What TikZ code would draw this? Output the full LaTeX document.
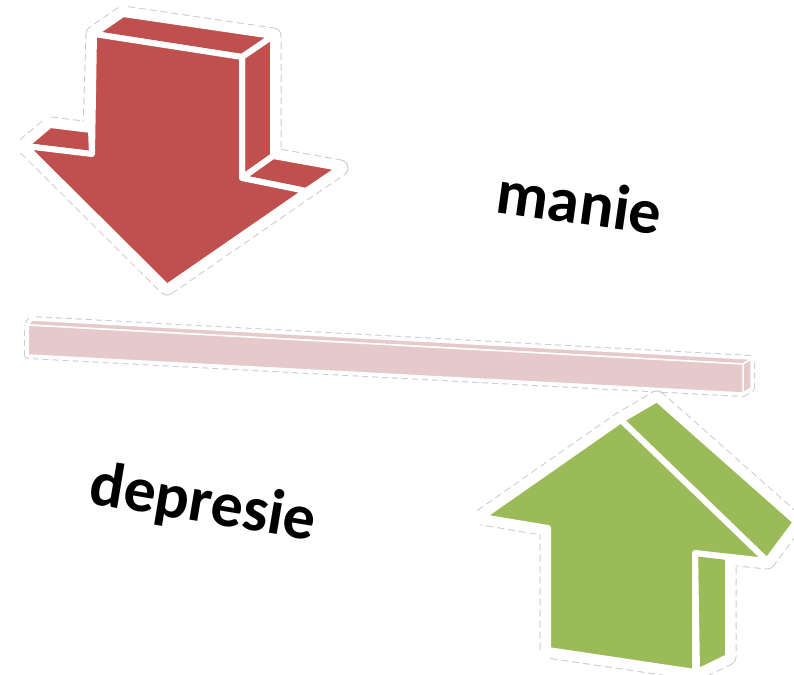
\documentclass[tikz,border=0pt]{standalone}
\usepackage{fontspec}
\setmainfont{Carlito}
\definecolor{arrred}{HTML}{C0504D}
\definecolor{arrgreen}{HTML}{9BBB59}
\definecolor{barpink}{HTML}{E6C9CA}
\definecolor{halogray}{HTML}{C8CCD0}
\begin{document}
\begin{tikzpicture}[x=1pt,y=-1pt,
  halo/.style={draw=halogray,line width=17,dash pattern=on 7 off 4,line join=round},
  haloin/.style={draw=white,line width=15,line join=round},
  face/.style={draw=white,line width=6,line join=round},
  redface/.style={face,fill=arrred},
  greenface/.style={face,fill=arrgreen},
  barface/.style={draw=white,line width=1.5,line join=round,fill=barpink},
  lbl/.style={font=\fontsize{64}{74}\selectfont\bfseries,text=black,inner sep=0pt}]
\useasboundingbox (0,0) rectangle (794,674);
% ---------- red arrow ----------
\def\redsil{(25,146) -- (50,125) -- (91,130) -- (94,34) -- (123,14) -- (273,36) -- (273,156) -- (340,168) -- (306,191) -- (167,287) -- cycle}
\draw[halo] \redsil;
\draw[haloin] \redsil;
\fill[white] \redsil;
\draw[redface] (94,34) -- (123,14) -- (273,36) -- (242,57) -- cycle;
\draw[redface] (242,57) -- (273,36) -- (273,156) -- (242,178) -- cycle;
\draw[redface] (25,146) -- (50,125) -- (91,130) -- (92,154) -- cycle;
\draw[redface] (242,178) -- (273,156) -- (340,168) -- (306,191) -- cycle;
\draw[redface] (94,34) -- (242,57) -- (242,178) -- (306,191) -- (167,287) -- (25,146) -- (92,154) -- cycle;
% ---------- bar ----------
\def\barsil{(28,325) -- (32,320) -- (751,359) -- (751,388) -- (743,393) -- (28,355) -- cycle}
\draw[draw=halogray,line width=8,dash pattern=on 6 off 4,line join=round] \barsil;
\draw[draw=white,line width=6,line join=round] \barsil;
\fill[white] \barsil;
\draw[barface] (28,325) -- (32,320) -- (751,359) -- (743,364) -- cycle;
\draw[barface] (743,364) -- (751,359) -- (751,388) -- (743,393) -- cycle;
\draw[barface] (28,325) -- (743,364) -- (743,393) -- (28,355) -- cycle;
% ---------- green arrow ----------
\def\greensil{(482,517) -- (621,420) -- (657,399) -- (796,522) -- (767,561) -- (728,557) -- (728,657) -- (697,672) -- (548,650) -- (548,528) -- cycle}
\draw[halo] \greensil;
\draw[haloin] \greensil;
\fill[white] \greensil;
\draw[greenface] (621,420) -- (657,399) -- (796,522) -- (767,561) -- cycle;
\draw[greenface] (695,553) -- (728,557) -- (728,657) -- (697,672) -- cycle;
\draw[greenface] (482,517) -- (621,420) -- (767,561) -- (695,553) -- (695,672) -- (548,650) -- (548,528) -- cycle;
% ---------- labels ----------
\node[lbl,anchor=base west,rotate=-8] (manie) at (494,212) {manie};
\node[lbl,anchor=base west,rotate=-9.5] (depresie) at (87,503) {depresie};
\end{tikzpicture}
\end{document}
